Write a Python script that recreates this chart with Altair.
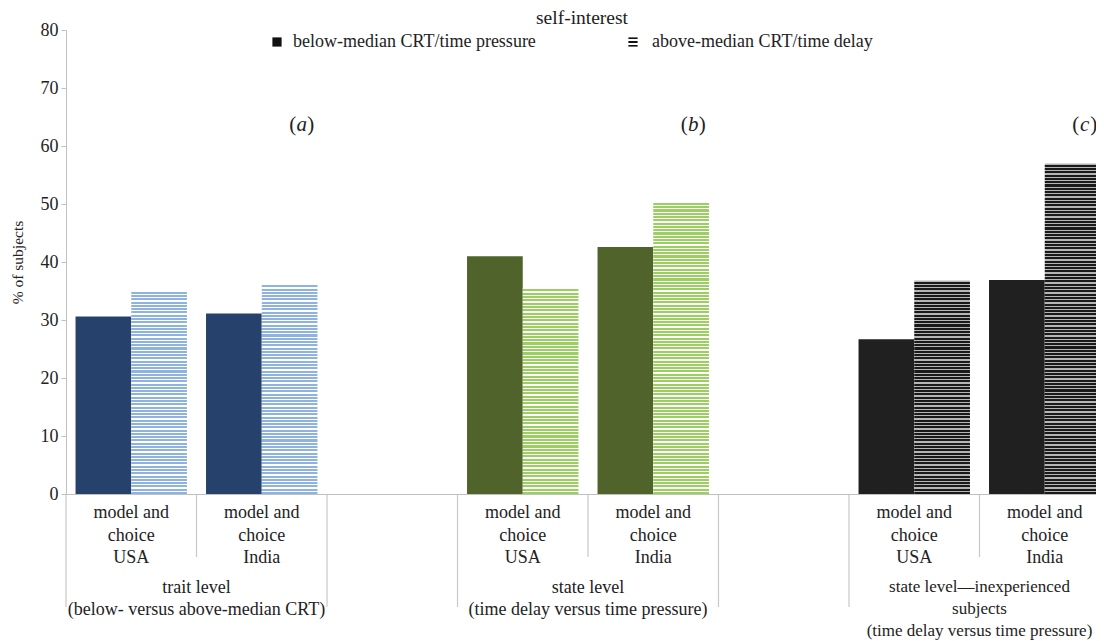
import altair as alt
import pandas as pd

# ---- data ----
slots = ["a_USA", "a_India", "gap1", "b_USA", "b_India", "gap2", "c_USA", "c_India"]
bar_slots = ["a_USA", "a_India", "b_USA", "b_India", "c_USA", "c_India"]
bar_groups = ["a", "a", "b", "b", "c", "c"]
below_vals = [30.6, 31.1, 41.0, 42.6, 26.7, 36.9]   # below-median CRT / time pressure
above_vals = [35.1, 36.2, 35.5, 50.4, 36.8, 57.0]   # above-median CRT / time delay
series_names = ["below-median CRT/time pressure", "above-median CRT/time delay"]

tick_labels = ["model and\nchoice\nUSA", "model and\nchoice\nIndia"] * 3
group_label_slots = ["a_India", "b_India", "c_India"]
group_labels = [
    "trait level\n(below- versus above-median CRT)",
    "state level\n(time delay versus time pressure)",
    "state level\u2014inexperienced\nsubjects\n(time delay versus time pressure)",
]
panel_letters = ["a", "b", "c"]
long_sep_slots = ["a_USA", "gap1", "b_USA", "gap2", "c_USA"]
short_sep_slots = ["a_India", "b_India", "c_India"]

dark_colors = {"a": "#26426c", "b": "#4f632a", "c": "#202020"}
stripe_colors = {"a": ("#8fb3e0", "#ffffff"), "b": ("#9ccf62", "#ffffff"), "c": ("#1a1a1a", "#b5b5b5")}

FONT = "Liberation Serif"
TXT = "#222222"
W_RANGE = 1044
H = 464
YMAX = 80

x_scale = alt.Scale(domain=slots, range=[0, W_RANGE], paddingInner=0, paddingOuter=0)
y_scale = alt.Scale(domain=[0, YMAX], nice=False)
off_scale = alt.Scale(domain=series_names, paddingInner=0, paddingOuter=0.171)

df = pd.DataFrame({
    "slot": bar_slots * 2,
    "group": bar_groups * 2,
    "series": [series_names[0]] * 6 + [series_names[1]] * 6,
    "value": below_vals + above_vals,
})

base = alt.Chart(df)
x_enc = alt.X("slot:N", scale=x_scale,
              axis=alt.Axis(labels=False, ticks=False, title=None, domainColor="#c0c0c0", grid=False))
y_enc = alt.Y("value:Q", scale=y_scale,
              axis=alt.Axis(values=list(range(0, 81, 10)), grid=False, domainColor="#c0c0c0",
                            tickColor="#c0c0c0", tickSize=5, labelFont=FONT, labelFontSize=18,
                            labelColor=TXT, labelPadding=3, title="% of subjects",
                            titleFont=FONT, titleFontSize=15.5, titleFontWeight="normal",
                            titleColor=TXT, titleX=-49, titleY=H / 2, titleAngle=-90,
                            titleAlign="center", titleBaseline="middle"))
off_enc = alt.XOffset("series:N", scale=off_scale, sort=series_names)

layers = []

# dark (below-median) bars
layers.append(
    base.transform_filter(alt.datum.series == series_names[0]).mark_bar().encode(
        x=x_enc, xOffset=off_enc, y=y_enc,
        fill=alt.Fill("group:N", scale=alt.Scale(domain=list(dark_colors), range=list(dark_colors.values())),
                      legend=None),
    )
)


def stripe_gradient(c1, c2, value):
    px = value / YMAX * H
    n = max(1, round(px / 3.3))
    stops = []
    for i in range(n):
        s, e = i / n, (i + 1) / n
        m = s + (e - s) * 0.38
        stops += [alt.GradientStop(offset=s, color=c2), alt.GradientStop(offset=m, color=c2),
                  alt.GradientStop(offset=m, color=c1), alt.GradientStop(offset=e, color=c1)]
    return alt.LinearGradient(gradient="linear", x1=0, y1=0, x2=0, y2=1, stops=stops)


# striped (above-median) bars, one layer per bar
for slot, grp, val in zip(bar_slots, bar_groups, above_vals):
    c1, c2 = stripe_colors[grp]
    layers.append(
        base.transform_filter((alt.datum.series == series_names[1]) & (alt.datum.slot == slot))
        .mark_bar(fill=stripe_gradient(c1, c2, val))
        .encode(x=x_enc, xOffset=off_enc, y=y_enc)
    )

# category separators
sep_df = pd.DataFrame({"slot": long_sep_slots + short_sep_slots,
                       "kind": ["long"] * len(long_sep_slots) + ["short"] * len(short_sep_slots)})
for kind, y2 in [("long", H + 113), ("short", H + 63)]:
    layers.append(
        alt.Chart(sep_df).transform_filter(alt.datum.kind == kind).mark_rule(color="#c8c8c8", strokeWidth=1.2)
        .encode(x=alt.X("slot:N", scale=x_scale, bandPosition=0), y=alt.value(H + 1), y2=alt.value(y2))
    )

# category tick labels
tl_df = pd.DataFrame({"slot": bar_slots, "label": tick_labels})
layers.append(
    alt.Chart(tl_df).mark_text(font=FONT, fontSize=18, color=TXT, lineBreak="\n", lineHeight=22.5,
                               baseline="top", align="center")
    .encode(x=alt.X("slot:N", scale=x_scale), y=alt.value(H + 10), text="label:N")
)

# group labels (the last one slightly smaller so it fits at the right edge)
gl_df = pd.DataFrame({"slot": group_label_slots, "label": group_labels})
for sel, fs in [(alt.datum.slot != "c_India", 18), (alt.datum.slot == "c_India", 17)]:
    layers.append(
        alt.Chart(gl_df).transform_filter(sel)
        .mark_text(font=FONT, fontSize=fs, color=TXT, lineBreak="\n", lineHeight=22,
                   baseline="top", align="center")
        .encode(x=alt.X("slot:N", scale=x_scale, bandPosition=0), y=alt.value(H + 85), text="label:N")
    )

# panel letters: upright parentheses, italic letter
pl_df = pd.DataFrame({"slot": group_label_slots, "label": panel_letters})
PX = 40
layers.append(
    alt.Chart(pl_df).mark_text(font=FONT, fontSize=21, fontStyle="italic", color=TXT, dx=PX,
                               baseline="middle", align="center")
    .encode(x=alt.X("slot:N", scale=x_scale), y=alt.value(95), text="label:N")
)
layers.append(
    alt.Chart(pl_df).mark_text(font=FONT, fontSize=21, color=TXT, dx=PX - 5.5,
                               baseline="middle", align="right", text="(")
    .encode(x=alt.X("slot:N", scale=x_scale), y=alt.value(95))
)
layers.append(
    alt.Chart(pl_df).mark_text(font=FONT, fontSize=21, color=TXT, dx=PX + 5.5,
                               baseline="middle", align="left", text=")")
    .encode(x=alt.X("slot:N", scale=x_scale), y=alt.value(95))
)

# title
title_df = pd.DataFrame({"t": ["self-interest"]})
layers.append(
    alt.Chart(title_df).mark_text(font=FONT, fontSize=19.5, color=TXT, baseline="middle", align="center")
    .encode(x=alt.value(516), y=alt.value(-12), text="t:N")
)

# legend
leg_df = pd.DataFrame({"name": series_names, "lx": [227, 586], "sx": [211, 567]})
layers.append(
    alt.Chart(leg_df).mark_text(font=FONT, fontSize=18, color=TXT, baseline="middle", align="left")
    .encode(x=alt.X("lx:Q", scale=None), y=alt.value(12), text="name:N")
)
layers.append(
    alt.Chart(leg_df).transform_filter(alt.datum.name == series_names[0])
    .mark_square(size=85, fill="#111111", opacity=1)
    .encode(x=alt.X("sx:Q", scale=None), y=alt.value(12))
)
layers.append(
    alt.Chart(leg_df).transform_filter(alt.datum.name == series_names[1])
    .mark_square(size=85, opacity=1,
                 fill=alt.LinearGradient(gradient="linear", x1=0, y1=0, x2=0, y2=1, stops=[
                     alt.GradientStop(offset=0, color="#111111"), alt.GradientStop(offset=0.22, color="#111111"),
                     alt.GradientStop(offset=0.22, color="#ffffff"), alt.GradientStop(offset=0.39, color="#ffffff"),
                     alt.GradientStop(offset=0.39, color="#111111"), alt.GradientStop(offset=0.61, color="#111111"),
                     alt.GradientStop(offset=0.61, color="#ffffff"), alt.GradientStop(offset=0.78, color="#ffffff"),
                     alt.GradientStop(offset=0.78, color="#111111"), alt.GradientStop(offset=1, color="#111111")]))
    .encode(x=alt.X("sx:Q", scale=None), y=alt.value(12))
)

chart = alt.layer(*layers).properties(
    width=1030, height=H,
    autosize=alt.AutoSizeParams(type="none"),
    padding={"left": 58, "top": 22, "right": 0, "bottom": 147},
).configure_view(strokeWidth=0).configure_axis(grid=False)

chart.save("out.html", embed_options={"renderer": "svg", "actions": False})
